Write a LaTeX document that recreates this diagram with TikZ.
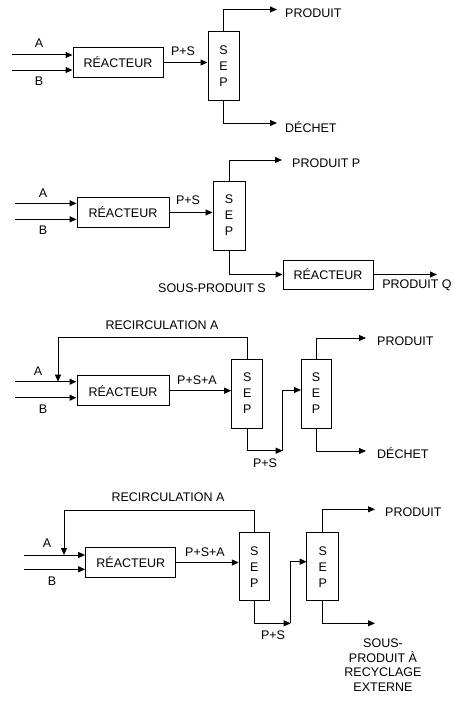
\documentclass[tikz,border=0pt]{standalone}
\usepackage{fontspec}
\setmainfont{Liberation Sans}
\usetikzlibrary{arrows.meta}
\tikzset{
  x=1pt, y=-1pt,
  every node/.style={font=\fontsize{12.5}{16}\selectfont, inner sep=0pt},
  boxr/.style={draw, line width=1pt, minimum width=90pt, minimum height=30pt},
  boxs/.style={draw, line width=1pt, minimum width=31pt, minimum height=68pt, align=center},
  ln/.style={line width=1pt},
  arr/.style={line width=1pt, -{Triangle[length=7pt,width=6pt]}},
  lbl/.style={anchor=center},
}
\begin{document}
\begin{tikzpicture}
\useasboundingbox (0,0) rectangle (472,709);
\fill[white] (0,0) rectangle (472,709);

% ---------- Diagram 1 ----------
\node[boxr] (R1) at (118,62.5) {RÉACTEUR};
\node[boxs, minimum width=31pt, minimum height=68pt] (S1) at (223.5,66) {S\\E\\P};
\coordinate (a1) at (12,55);
\coordinate (b1) at (12,70);
\draw[arr] (a1) -- (a1 -| R1.west);
\draw[arr] (b1) -- (b1 -| R1.west);
\node (lA1) at (39,43) {A};
\node (lB1) at (39,81) {B};
\draw[arr] (R1.east) -- (R1.east -| S1.west);
\node (lPS1) at (183,51) {P+S};
\coordinate (t1) at (277,9.5);
\coordinate (d1) at (277,123);
\draw[arr] (S1.north) |- (t1);
\draw[arr] (S1.south) |- (d1);
\node[anchor=west] (lP1) at (285,13) {PRODUIT};
\node[anchor=west] (lD1) at (285,127) {DÉCHET};

% ---------- Diagram 2 ----------
\node[boxr, minimum width=92pt] (R2) at (123,212.5) {RÉACTEUR};
\node[boxs, minimum width=32pt, minimum height=69pt] (S2) at (229,215.5) {S\\E\\P};
\node[boxr, minimum height=29pt] (R2b) at (328,274.5) {RÉACTEUR};
\coordinate (a2) at (15,203.3);
\coordinate (b2) at (15,219.3);
\draw[arr] (a2) -- (a2 -| R2.west);
\draw[arr] (b2) -- (b2 -| R2.west);
\node (lA2) at (43,193) {A};
\node (lB2) at (43,230) {B};
\draw[arr] (R2.east) -- (R2.east -| S2.west);
\node (lPS2) at (188,200) {P+S};
\coordinate (t2) at (282,160);
\draw[arr] (S2.north) |- (t2);
\node[anchor=west] (lP2) at (292,163) {PRODUIT P};
\draw[arr] (S2.south) |- (R2b.west);
\node (lSP2) at (212,288) {SOUS-PRODUIT S};
\coordinate (q2) at (437,274.5);
\draw[arr] (R2b.east) -- (q2);
\node (lQ2) at (417,285) {PRODUIT Q};

% ---------- Diagram 3 ----------
\node[boxr, minimum width=92pt] (R3) at (123,390.7) {RÉACTEUR};
\node[boxs, minimum width=31.3pt, minimum height=69pt] (S3a) at (247.3,393.5) {S\\E\\P};
\node[boxs, minimum width=30pt, minimum height=69pt] (S3b) at (316,393.5) {S\\E\\P};
\coordinate (a3) at (15,381.7);
\coordinate (b3) at (15,397.7);
\draw[arr] (a3) -- (a3 -| R3.west);
\draw[arr] (b3) -- (b3 -| R3.west);
\node (lA3) at (38,371) {A};
\node (lB3) at (43,409) {B};
\coordinate (r3) at (58,337);
\draw[arr] (S3a.north) |- (r3) -- (r3 |- a3);
\node (lRC3) at (162,325) {RECIRCULATION A};
\draw[arr] (R3.east) -- (R3.east -| S3a.west);
\node (lPSA3) at (197,380) {P+S+A};
\coordinate (k3) at (282.7,450.7);
\coordinate (e3) at (301,390);
\draw[arr] (S3a.south) |- (k3);
\draw[arr] (k3) |- (e3);
\node (lPS3) at (265,462.7) {P+S};
\coordinate (t3) at (366,338);
\coordinate (d3) at (366,451);
\draw[arr] (S3b.north) |- (t3);
\draw[arr] (S3b.south) |- (d3);
\node[anchor=west] (lP3) at (377,340.7) {PRODUIT};
\node[anchor=west] (lD3) at (377,453) {DÉCHET};

% ---------- Diagram 4 ----------
\node[boxr, minimum width=90.3pt, minimum height=29.6pt] (R4) at (130.8,562.5) {RÉACTEUR};
\node[boxs, minimum width=30pt, minimum height=68pt] (S4a) at (254.3,566.7) {S\\E\\P};
\node[boxs, minimum width=32.3pt, minimum height=68pt] (S4b) at (322.8,566.7) {S\\E\\P};
\coordinate (a4) at (24,555);
\coordinate (b4) at (24,569.3);
\draw[arr] (a4) -- (a4 -| R4.west);
\draw[arr] (b4) -- (b4 -| R4.west);
\node (lA4) at (47,543) {A};
\node (lB4) at (52,580.7) {B};
\coordinate (r4) at (64,510);
\draw[arr] (S4a.north) |- (r4) -- (r4 |- a4);
\node (lRC4) at (168,497) {RECIRCULATION A};
\draw[arr] (R4.east) -- (R4.east -| S4a.west);
\node (lPSA4) at (205,551.7) {P+S+A};
\coordinate (k4) at (290.7,623.3);
\coordinate (e4) at (306.7,561.7);
\draw[arr] (S4a.south) |- (k4);
\draw[arr] (k4) |- (e4);
\node (lPS4) at (273,635) {P+S};
\coordinate (t4) at (375,509.3);
\coordinate (d4) at (375,623.3);
\draw[arr] (S4b.north) |- (t4);
\draw[arr] (S4b.south) |- (d4);
\node[anchor=west] (lP4) at (385,512.3) {PRODUIT};
\node[align=center, font=\fontsize{12.5}{14.5}\selectfont] (lSP4) at (383,665) {SOUS-\\PRODUIT À\\RECYCLAGE\\EXTERNE};
\end{tikzpicture}
\end{document}
